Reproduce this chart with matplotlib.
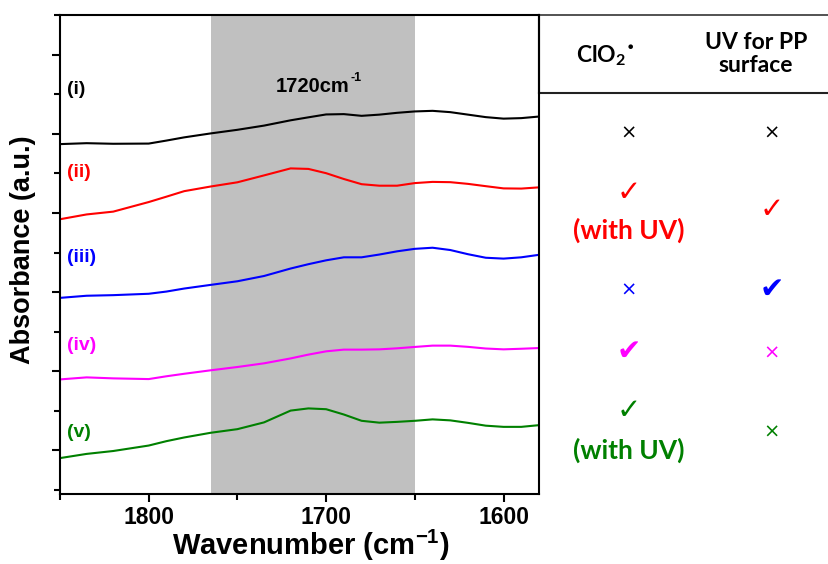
import matplotlib
matplotlib.use("Agg")
import matplotlib.pyplot as plt
from matplotlib.lines import Line2D

# ---------------- data ----------------
wavenumber = [1849, 1835, 1820, 1800, 1790, 1780, 1765, 1750, 1735, 1720, 1710, 1700,
              1690, 1680, 1670, 1660, 1650, 1640, 1630, 1620, 1610, 1600, 1590, 1580]
abs_i = [8.740, 8.762, 8.747, 8.752, 8.828, 8.909, 9.009, 9.100, 9.206, 9.340, 9.415, 9.488,
         9.496, 9.453, 9.483, 9.529, 9.564, 9.579, 9.546, 9.483, 9.420, 9.382, 9.395, 9.435]
abs_ii = [6.849, 6.962, 7.033, 7.275, 7.411, 7.550, 7.668, 7.774, 7.948, 8.125, 8.112, 8.004,
          7.857, 7.726, 7.688, 7.688, 7.754, 7.784, 7.777, 7.734, 7.676, 7.620, 7.615, 7.646]
abs_iii = [4.858, 4.908, 4.923, 4.958, 5.014, 5.090, 5.183, 5.274, 5.407, 5.596, 5.705, 5.803,
           5.879, 5.879, 5.949, 6.030, 6.093, 6.121, 6.063, 5.957, 5.868, 5.846, 5.879, 5.942]
abs_iv = [2.798, 2.846, 2.821, 2.803, 2.874, 2.937, 3.025, 3.108, 3.201, 3.325, 3.421, 3.504,
          3.547, 3.547, 3.554, 3.580, 3.615, 3.648, 3.648, 3.617, 3.575, 3.554, 3.569, 3.587]
abs_v = [0.814, 0.913, 0.986, 1.124, 1.235, 1.328, 1.447, 1.538, 1.709, 2.007, 2.062, 2.042,
         1.908, 1.749, 1.702, 1.722, 1.749, 1.785, 1.760, 1.697, 1.626, 1.596, 1.596, 1.639]

series = [abs_i, abs_ii, abs_iii, abs_iv, abs_v]
series_labels = ['(i)', '(ii)', '(iii)', '(iv)', '(v)']
series_colors = ['#000000', '#ff0000', '#0000ff', '#ff00ff', '#008000']

band_start, band_end = 1765, 1650
band_label = '1720cm'
band_label_sup = '-1'

xticks_major = [1800, 1700, 1600]
xticks_minor = [1850, 1750, 1650]

table_headers = ['ClO$\\mathregular{_2}$$\\mathregular{^{\u2022}}$', 'UV for PP\nsurface']
clo2_marks = ['\u00d7', '\u2713', '\u00d7', '\u2714', '\u2713']
clo2_notes = ['', '(with UV)', '', '', '(with UV)']
uv_marks = ['\u00d7', '\u2713', '\u2714', '\u00d7', '\u00d7']

# ---------------- figure ----------------
W, H = 829, 564
fig = plt.figure(figsize=(W / 100, H / 100), dpi=100)
ax = fig.add_axes([60 / W, 1 - 494 / H, (539 - 60) / W, (494 - 15) / H])

ax.axvspan(band_start, band_end, color='#c0c0c0', lw=0, zorder=0)
for ys, c in zip(series, series_colors):
    ax.plot(wavenumber, ys, color=c, lw=1.5, zorder=2)

ax.set_xlim(1849, 1580)
ax.set_ylim(-0.1, 11.97)

ax.set_xticks(xticks_major)
ax.set_xticks(xticks_minor, minor=True)
ax.set_yticks(list(range(1, 12, 2)))
ax.set_yticks(list(range(0, 13, 2)), minor=True)
ax.set_yticklabels([])
ax.tick_params(which='major', direction='out', length=6, width=1.5)
ax.tick_params(which='minor', direction='out', length=4, width=1.5)
ax.tick_params(axis='x', which='major', pad=3)
for lab in ax.get_xticklabels():
    lab.set_fontfamily('Liberation Sans')
    lab.set_fontweight('bold')
    lab.set_fontsize(16.5)
for sp in ax.spines.values():
    sp.set_linewidth(1.5)

ax.set_xlabel('Wavenumber (cm$\\mathregular{^{-1}}$)', fontfamily='Liberation Sans',
              fontweight='bold', fontsize=21, labelpad=-1)
ax.xaxis.label.set_x(0.523)
ax.set_ylabel('Absorbance (a.u.)', fontfamily='Liberation Sans',
              fontweight='bold', fontsize=19.5, labelpad=8)
ax.yaxis.label.set_y(0.51)

label_x = 1846.3
label_y = [10.13, 8.02, 5.87, 3.66, 1.46]
for lab, c, y in zip(series_labels, series_colors, label_y):
    ax.text(label_x, y, lab, color=c, fontfamily='Liberation Sans', fontweight='bold',
            fontsize=14, ha='left', va='center')

t = ax.text(1728.5, 10.2, band_label, fontfamily='Liberation Sans', fontweight='bold',
            fontsize=14.5, ha='left', va='center')
ax.annotate(band_label_sup, xy=(1.0, 0.62), xycoords=t, xytext=(1, 0),
            textcoords='offset points', fontfamily='Liberation Sans', fontweight='bold',
            fontsize=9, ha='left', va='bottom')

# ---------------- table ----------------
def fx(px):
    return px / W

def fy(py):
    return 1 - py / H

fig.add_artist(Line2D([fx(539), 1], [fy(15), fy(15)], color='#444444', lw=1.3))
fig.add_artist(Line2D([fx(539), 1], [fy(93), fy(93)], color='#222222', lw=1.5))
fig.add_artist(Line2D([fx(539.5), fx(539.5)], [fy(15), fy(93)], color='black', lw=1.5))

col_x = [629, 772]
head_x = [605, 756]
hfont = dict(fontfamily='Lato', fontweight='bold', fontsize=16.5, ha='center', va='center')
fig.text(fx(head_x[0]), fy(56), table_headers[0], **hfont)
fig.text(fx(head_x[1]), fy(54), table_headers[1], linespacing=1.15, **hfont)

# positions per row: (mark y col1, note y col1, mark y col2)
row_pos = [(133, None, 133), (193, 230, 210), (290, None, 290), (352, None, 353),
           (411, 450, 432)]

for i in range(5):
    c = series_colors[i]
    m1y, ny, m2y = row_pos[i]
    for mark, x, y in ((clo2_marks[i], col_x[0], m1y), (uv_marks[i], col_x[1], m2y)):
        if mark == '\u00d7':
            fig.text(fx(x), fy(y), mark, color=c, fontfamily='DejaVu Sans', fontsize=14,
                     ha='center', va='center')
        else:
            fig.text(fx(x), fy(y), mark, color=c, fontfamily='DejaVu Sans', fontsize=21,
                     fontweight='bold', ha='center', va='center')
    if clo2_notes[i]:
        fig.text(fx(col_x[0]), fy(ny), clo2_notes[i], color=c, fontfamily='Lato',
                 fontweight='bold', fontsize=19, ha='center', va='center')

fig.savefig('out.png', dpi=100)
